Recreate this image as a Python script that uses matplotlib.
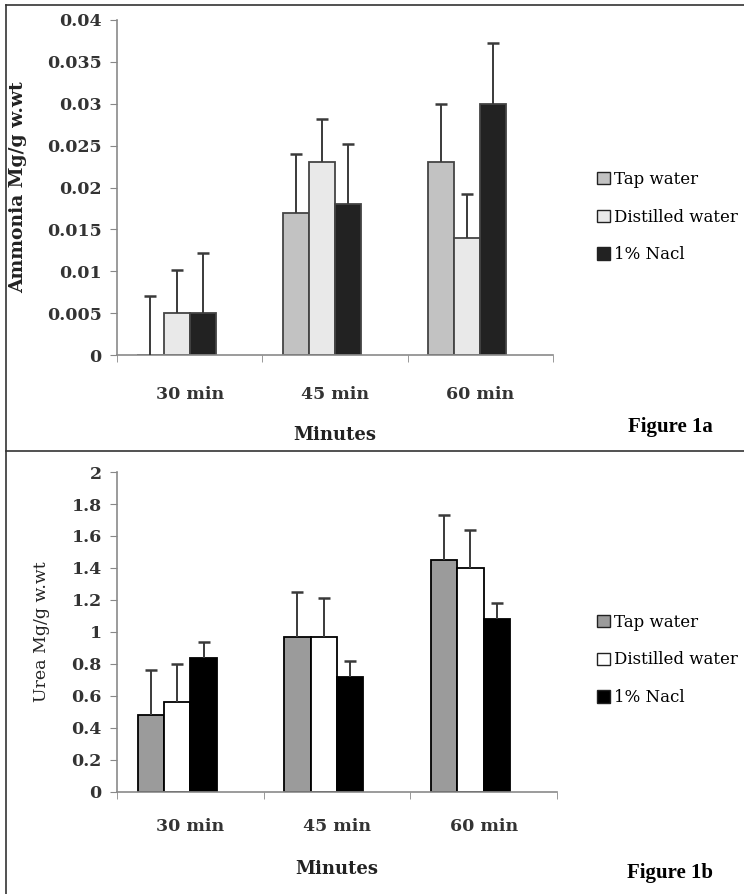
import matplotlib.pyplot as plt
import numpy as np
from matplotlib.lines import Line2D

categories = ["30 min", "45 min", "60 min"]
series = ["Tap water", "Distilled water", "1% Nacl"]

# Figure 1a - ammonia
ammonia = [
    [0.0, 0.017, 0.023],
    [0.005, 0.023, 0.014],
    [0.005, 0.018, 0.030],
]
ammonia_err = [
    [0.007, 0.007, 0.007],
    [0.0052, 0.0052, 0.0052],
    [0.0072, 0.0072, 0.0072],
]

# Figure 1b - urea
urea = [
    [0.48, 0.97, 1.45],
    [0.56, 0.97, 1.40],
    [0.84, 0.72, 1.08],
]
urea_err = [
    [0.28, 0.28, 0.28],
    [0.24, 0.24, 0.24],
    [0.10, 0.10, 0.10],
]

top_colors = ["#c2c2c2", "#e9e9e9", "#222222"]
bot_colors = ["#9b9b9b", "#ffffff", "#000000"]

plt.rcParams['font.family'] = ['DejaVu Serif']

fig = plt.figure(figsize=(7.44, 8.94), dpi=100)
W, H = 744.0, 894.0

def panel(rect, vals, errs, colors, edge, ylim, yticks, fmt, ylabel, ylabel_bold,
          fig_label, legend_y, xpad, xlabelpad):
    ax = fig.add_axes(rect)
    x = np.arange(len(categories)) + 0.5
    width = 0.18
    offsets = [-0.27, -0.09, 0.09]
    for i in range(3):
        xs = x + offsets[i]
        ax.bar(xs, vals[i], width=width, color=colors[i], edgecolor=edge,
               linewidth=1.3, label=series[i], zorder=2)
        eb = ax.errorbar(xs, vals[i], yerr=[np.zeros(3), errs[i]], fmt='none',
                         ecolor="#3a3a3a", elinewidth=1.4, capsize=4, capthick=1.8, zorder=3)
        eb[1][0].set_visible(False)  # no cap on the bar top
    ax.set_xlim(0, 3)
    ax.set_ylim(*ylim)
    ax.set_yticks(yticks)
    ax.set_yticklabels([fmt(v) for v in yticks], fontsize=12.5, fontweight='bold', color="#333333")
    ax.set_xticks(x)
    ax.set_xticklabels(categories, fontsize=12.5, fontweight='bold', color="#333333")
    ax.set_xticks([0, 1, 2, 3], minor=True)
    ax.tick_params(axis='x', which='major', length=0, pad=xpad)
    ax.tick_params(axis='x', which='minor', length=5, direction='out', color="#888888")
    ax.tick_params(axis='y', length=5, color="#888888", pad=6)
    for s in ['top', 'right']:
        ax.spines[s].set_visible(False)
    for s in ['left', 'bottom']:
        ax.spines[s].set_color("#8a8a8a")
        ax.spines[s].set_linewidth(1.2)
    ax.set_xlabel("Minutes", fontsize=13, fontweight='bold', color="#222222", labelpad=xlabelpad)
    ax.set_ylabel(ylabel, fontsize=13.5 if ylabel_bold else 12.5,
                  fontweight='bold' if ylabel_bold else 'normal', color="#222222")
    handles = [plt.Rectangle((0, 0), 1, 1, facecolor=colors[i], edgecolor="#222222", linewidth=1)
               for i in range(3)]
    fig.legend(handles, series, loc='center left', bbox_to_anchor=(589 / W, 1 - legend_y / H),
               frameon=False, fontsize=12, handlelength=0.75, handleheight=0.75,
               handletextpad=0.25, labelspacing=1.25, borderpad=0)
    fig.text(fig_label[0] / W, 1 - fig_label[1] / H, fig_label[2], fontsize=15, fontweight='bold',
             family='Liberation Serif', ha='center', va='center')
    return ax

ax1 = panel([117 / W, 1 - 355 / H, (553 - 117) / W, (355 - 20) / H], ammonia, ammonia_err,
            top_colors, "#444444", (0, 0.04), np.arange(0, 0.0401, 0.005),
            lambda v: "0" if v == 0 else ("%.3f" % v).rstrip('0'),
            "Ammonia Mg/g w.wt", True, (670, 427, "Figure 1a"), 217, 22, 17)
ax1.yaxis.set_label_coords(-0.206, 0.5)

ax2 = panel([117 / W, 1 - 792 / H, (557 - 117) / W, (792 - 472) / H], urea, urea_err,
            bot_colors, "#000000", (0, 2), np.arange(0, 2.01, 0.2),
            lambda v: ("%.1f" % v).rstrip('0').rstrip('.') if v != 0 else "0",
            "Urea Mg/g w.wt", False, (670, 873, "Figure 1b"), 660, 19, 18)
ax2.yaxis.set_label_coords(-0.152, 0.5)

# panel borders
for seg in [((6, 6), (5, 894)), ((6, 744), (5, 5)), ((6, 744), (451, 451))]:
    fig.add_artist(Line2D([seg[0][0] / W, seg[0][1] / W], [1 - seg[1][0] / H, 1 - seg[1][1] / H],
                          color="#333333", linewidth=1.2))

fig.savefig("out.png", dpi=100)
